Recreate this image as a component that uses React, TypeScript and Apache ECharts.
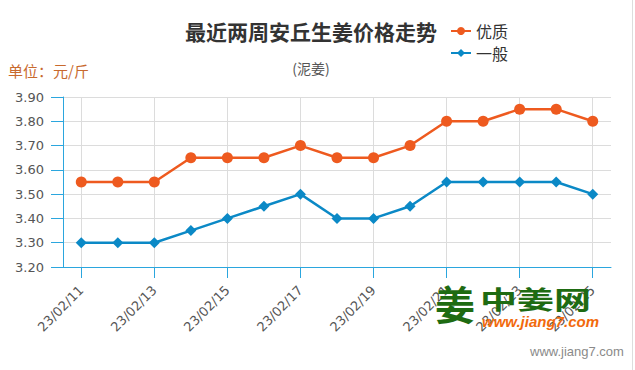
import React, { useEffect, useRef } from "react";
import * as echarts from "echarts";

const categories = [
  "23/02/11", "23/02/12", "23/02/13", "23/02/14", "23/02/15",
  "23/02/16", "23/02/17", "23/02/18", "23/02/19", "23/02/20",
  "23/02/21", "23/02/22", "23/02/23", "23/02/24", "23/02/25",
];
const premium = [3.55, 3.55, 3.55, 3.65, 3.65, 3.65, 3.7, 3.65, 3.65, 3.7, 3.8, 3.8, 3.85, 3.85, 3.8];
const ordinary = [3.3, 3.3, 3.3, 3.35, 3.4, 3.45, 3.5, 3.4, 3.4, 3.45, 3.55, 3.55, 3.55, 3.55, 3.5];
const seriesNames = ["优质", "一般"];
const yMin = 3.2;
const yMax = 3.9;
const yStep = 0.1;

const FONT = "'Noto Sans CJK SC', 'Noto Sans', sans-serif";
const AXFONT = "'DejaVu Sans', Verdana, sans-serif";
const AXIS_BLUE = "#2ba6de";
const GRID = "#dcdcdc";

export default function App() {
  const ref = useRef<HTMLDivElement>(null);
  useEffect(() => {
    if (!ref.current) return;
    const chart = echarts.init(ref.current, null, { renderer: "svg" });
    chart.setOption({
      animation: false,
      backgroundColor: "#ffffff",
      textStyle: { fontFamily: FONT },
      title: [
        {
          text: "最近两周安丘生姜价格走势",
          left: 311,
          textAlign: "center",
          top: 20,
          padding: 0,
          textStyle: { fontSize: 21, fontWeight: "bold", color: "#333", fontFamily: FONT },
        },
        {
          text: "(泥姜)",
          left: 311,
          textAlign: "center",
          top: 61,
          padding: 0,
          textStyle: { fontSize: 14, fontWeight: "normal", color: "#555", fontFamily: FONT },
        },
        {
          text: "单位：元/斤",
          left: 8,
          top: 63,
          padding: 0,
          textStyle: { fontSize: 15, fontWeight: "normal", color: "#c8692e", fontFamily: FONT },
        },
      ],
      legend: {
        orient: "vertical",
        left: 450,
        top: 23,
        padding: 0,
        itemWidth: 20,
        itemHeight: 10,
        itemGap: 6,
        textStyle: { fontSize: 16, color: "#333", fontFamily: FONT },
        data: seriesNames,
      },
      grid: { left: 63, right: 24, top: 97, bottom: 103 },
      xAxis: {
        type: "category",
        data: categories,
        boundaryGap: true,
        axisLine: { lineStyle: { color: AXIS_BLUE, width: 1 } },
        axisTick: { show: true, interval: 1, alignWithLabel: true, length: 11, lineStyle: { color: AXIS_BLUE } },
        axisLabel: { interval: 1, rotate: 45, margin: 21, fontSize: 13, color: "#555", fontFamily: AXFONT },
        splitLine: { show: true, interval: 1, alignWithLabel: true, lineStyle: { color: GRID } },
      },
      yAxis: {
        type: "value",
        min: yMin,
        max: yMax,
        interval: yStep,
        axisLine: { show: true, lineStyle: { color: AXIS_BLUE, width: 1 } },
        axisTick: { show: true, length: 12, lineStyle: { color: AXIS_BLUE } },
        axisLabel: {
          margin: 19,
          fontSize: 13,
          color: "#555",
          fontFamily: AXFONT,
          formatter: (v: number) => v.toFixed(2),
        },
        splitLine: { show: true, lineStyle: { color: GRID } },
      },
      series: [
        {
          name: seriesNames[0],
          type: "line",
          data: premium,
          symbol: "circle",
          symbolSize: 11,
          itemStyle: { color: "#ee5a1f" },
          lineStyle: { color: "#ee5a1f", width: 2.5 },
        },
        {
          name: seriesNames[1],
          type: "line",
          data: ordinary,
          symbol: "diamond",
          symbolSize: 11,
          itemStyle: { color: "#0b89c6" },
          lineStyle: { color: "#0b89c6", width: 2.5 },
        },
      ],
      graphic: [
        {
          type: "text",
          x: 435,
          y: 283,
          z: 100,
          style: { text: "姜", fontSize: 40, fontWeight: "bold", fill: "#1e6b12", fontFamily: FONT },
        },
        {
          type: "text",
          x: 480,
          y: 285,
          scaleY: 0.68,
          z: 100,
          style: { text: "中姜网", fontSize: 37, fontWeight: "bold", fill: "#1e6b12", fontFamily: FONT },
        },
        {
          type: "text",
          x: 482,
          y: 314,
          z: 100,
          style: {
            text: "www.jiang7.com",
            fontSize: 15,
            fontWeight: "bold",
            fontStyle: "italic",
            fill: "#f26a0c",
            fontFamily: "'Liberation Sans', Arial, sans-serif",
          },
        },
        {
          type: "text",
          x: 530,
          y: 345,
          z: 100,
          style: { text: "www.jiang7.com", fontSize: 13, fill: "#8a8a8a", fontFamily: "'Liberation Sans', Arial, sans-serif" },
        },
        {
          type: "line",
          z: 100,
          shape: { x1: 632.5, y1: 0, x2: 632.5, y2: 370 },
          style: { stroke: "#dddddd", lineWidth: 1 },
        },
      ],
    });
    return () => chart.dispose();
  }, []);
  return <div ref={ref} style={{ width: 635, height: 370, position: "absolute", left: 0, top: 0 }} />;
}
